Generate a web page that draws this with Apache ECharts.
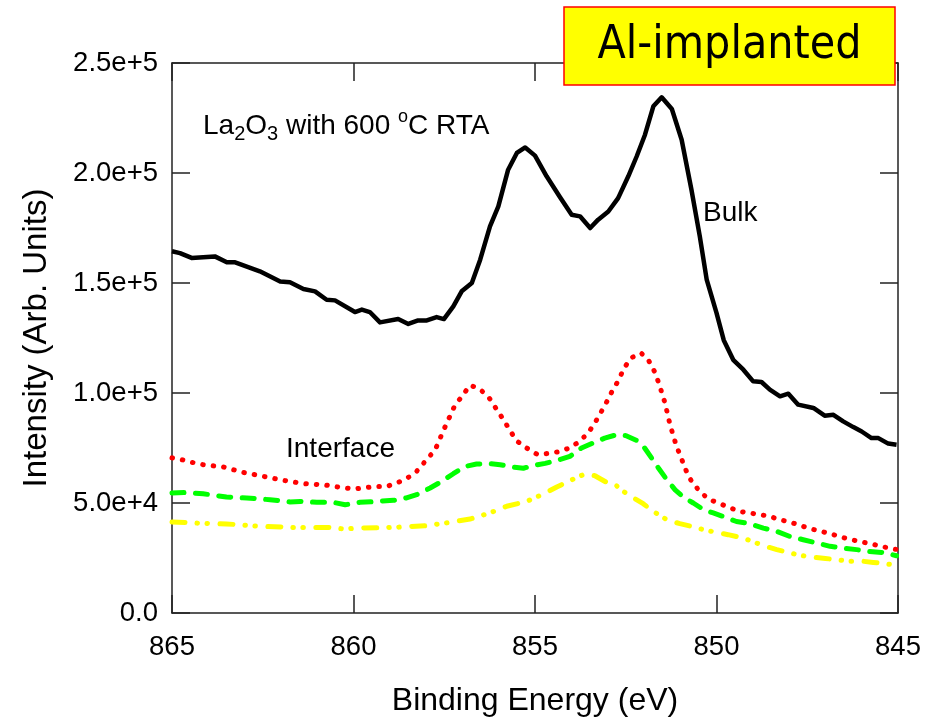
<!DOCTYPE html>
<html>
<head>
<meta charset="utf-8">
<script src="https://cdn.jsdelivr.net/npm/echarts@6/dist/echarts.min.js"></script>
<style>html,body{margin:0;padding:0;background:#fff}#c{width:937px;height:722px}</style>
</head>
<body>
<div id="c"></div>
<script>
// Binding energy (eV) and intensity (counts) for each curve
var bulkE = [865.00,864.78,864.46,863.82,863.49,863.26,862.58,862.02,861.75,861.38,861.06,860.74,860.51,859.96,859.77,859.55,859.27,858.77,858.49,858.22,857.98,857.71,857.51,857.25,857.02,856.74,856.51,856.24,856.01,855.74,855.50,855.27,855.00,854.68,854.31,853.99,853.76,853.48,853.26,852.98,852.71,852.43,852.20,851.97,851.74,851.51,851.23,850.96,850.69,850.46,850.27,850.00,849.80,849.54,849.26,848.99,848.76,848.53,848.25,848.02,847.75,847.33,847.02,846.78,846.51,846.23,846.00,845.73,845.54,845.27,845.04];
var bulkI = [164400,163600,161400,162100,159400,159400,155300,150700,150300,147300,146200,142400,142100,136800,137900,136800,132100,133600,131400,133000,133000,134500,133600,139400,146200,150000,160600,175700,184800,201500,209100,211600,207900,198500,189000,181000,180300,175000,178800,182500,188600,198500,207500,217400,230300,234400,229100,215100,192400,171200,151500,136400,124000,115100,110600,105300,105000,101500,98500,99700,94700,93200,89700,90100,87100,84500,82500,79500,79500,77000,76500];

var redE = [865.00,864.73,864.46,864.14,863.59,863.04,862.48,861.93,861.38,860.79,860.24,859.96,859.41,859.09,858.81,858.54,858.26,858.01,857.75,857.50,857.22,857.00,856.79,856.53,856.26,856.07,855.87,855.69,855.51,855.23,854.93,854.65,854.38,854.10,853.83,853.55,853.35,853.17,853.01,852.87,852.69,852.56,852.36,852.08,851.88,851.71,851.60,851.51,851.42,851.28,851.19,851.10,850.98,850.87,850.73,850.50,850.23,849.95,849.68,849.38,849.10,848.80,848.53,848.26,847.98,847.68,847.41,847.12,846.85,846.57,846.28,846.00,845.73,845.45,845.18,845.00];
var redI = [70500,69700,68500,67400,66400,63900,62100,60300,58800,58200,56800,56400,57500,57500,59100,61000,64400,69200,74200,83800,93900,98800,103500,102000,97700,92900,87900,83000,78300,75000,72000,72500,73200,74700,77300,81500,86400,91600,96400,101000,106000,110900,115900,118200,115100,109800,105000,100300,95500,85600,80600,75700,70900,65900,61000,56000,51800,50000,48200,46200,45500,44700,43900,42400,41400,39700,38300,37100,36000,34500,33300,32300,31400,30300,29200,28800];

var greenE = [865.00,864.60,864.14,863.50,862.94,862.30,861.75,861.47,861.01,860.56,860.23,859.82,859.36,858.90,858.54,858.26,857.89,857.57,857.25,856.93,856.61,856.24,855.96,855.64,855.32,855.05,854.72,854.36,854.04,853.72,853.40,853.08,852.76,852.49,852.21,851.98,851.79,851.60,851.37,851.14,850.91,850.64,850.36,850.09,849.77,849.45,849.08,848.71,848.34,847.98,847.61,847.24,846.87,846.51,846.14,845.78,845.41,845.04];
var greenI = [54500,54800,54200,52700,52300,51500,50500,50700,50300,50300,49200,50300,50700,51200,52300,53800,56800,59800,63300,66600,67700,67900,67400,66400,65800,67000,68000,69500,71200,75000,77300,79500,81000,80600,78500,75000,70500,65900,60600,56000,52700,50000,47000,45500,43600,41600,40600,38600,37100,34800,33300,31800,30300,29500,28800,28000,27500,26000];

var yellowE = [865.00,864.41,863.50,862.58,861.66,860.74,860.24,859.82,858.90,857.98,857.34,856.79,856.24,855.78,855.23,854.72,854.40,854.13,853.85,853.63,853.35,853.03,852.76,852.57,852.30,852.02,851.74,851.37,851.01,850.69,850.36,850.00,849.68,849.38,849.08,848.71,848.34,848.07,847.69,847.33,847.00,846.68,846.32,845.95,845.68,845.32,845.04];
var yellowI = [41400,40900,40500,39400,38900,38900,38200,38600,38900,39700,41200,42700,45500,48500,50700,54500,57300,59400,61600,63200,62400,59400,57900,55300,52500,49700,46200,42400,40600,39400,37900,36600,35600,34500,33000,30600,28800,27700,26200,25300,24800,24200,23500,23500,23000,22300,21800];

var xTicks = [865, 860, 855, 850, 845];
var yTicks = ['0.0', '5.0e+4', '1.0e+5', '1.5e+5', '2.0e+5', '2.5e+5'];

function pairs(xs, ys) { return xs.map(function (x, i) { return [x, ys[i]]; }); }

var FONT = "'Liberation Sans', Arial, sans-serif";
var axisLineStyle = { color: '#222', width: 1.5 };

var chart = echarts.init(document.getElementById('c'), null, { renderer: 'canvas' });

function xAxisCfg(pos, showLabel) {
  return {
    type: 'value', position: pos, min: 845, max: 865, interval: 5, inverse: true,
    axisLine: { show: true, onZero: false, lineStyle: axisLineStyle },
    axisTick: { show: true, inside: true, length: 18, lineStyle: axisLineStyle },
    axisLabel: { show: showLabel, fontSize: 27.5, color: '#000', margin: 20, fontFamily: FONT },
    splitLine: { show: false }
  };
}
function yAxisCfg(pos, showLabel) {
  return {
    type: 'value', position: pos, min: 0, max: 250000, interval: 50000,
    axisLine: { show: true, onZero: false, lineStyle: axisLineStyle },
    axisTick: { show: true, inside: true, length: 18, lineStyle: axisLineStyle },
    axisLabel: { show: showLabel, fontSize: 27.5, color: '#000', margin: 14, fontFamily: FONT,
      formatter: function (v) { return yTicks[Math.round(v / 50000)]; } },
    splitLine: { show: false }
  };
}

var xb = xAxisCfg('bottom', true);
xb.name = 'Binding Energy (eV)';
xb.nameLocation = 'middle';
xb.nameGap = 72;
xb.nameTextStyle = { fontSize: 32, color: '#000', fontFamily: FONT };
var xt = xAxisCfg('top', false);

var yl = yAxisCfg('left', true);
yl.name = 'Intensity (Arb. Units)';
yl.nameLocation = 'middle';
yl.nameGap = 119;
yl.nameTextStyle = { fontSize: 33, color: '#000', fontFamily: FONT };
var yr = yAxisCfg('right', false);

var option = {
  animation: false,
  backgroundColor: '#fff',
  grid: { left: 172, right: 39, top: 63, bottom: 109, containLabel: false },
  xAxis: [xb, xt],
  yAxis: [yl, yr],
  series: [
    { name: 'yellow', type: 'line', data: pairs(yellowE, yellowI), showSymbol: false, symbol: 'none',
      lineStyle: { color: '#ffff00', width: 5, type: [13, 12, 0.5, 9.5, 0.5, 12.5], cap: 'round', join: 'round' } },
    { name: 'green', type: 'line', data: pairs(greenE, greenI), showSymbol: false, symbol: 'none',
      lineStyle: { color: '#00ff00', width: 5, type: [12, 11.5], cap: 'round', join: 'round' } },
    { name: 'Interface', type: 'line', data: pairs(redE, redI), showSymbol: false, symbol: 'none',
      lineStyle: { color: '#ff0000', width: 5, type: [0.5, 10], cap: 'round', join: 'round' } },
    { name: 'Bulk', type: 'line', data: pairs(bulkE, bulkI), showSymbol: false, symbol: 'none',
      lineStyle: { color: '#000', width: 4.5, type: 'solid', join: 'round' } }
  ],
  graphic: [
    { type: 'text', x: 203, y: 126, z: 50,
      style: { text: '{m|La}{s|2}{m|O}{s|3}{m| with 600 }{u|o}{m|C RTA}', align: 'left', verticalAlign: 'middle',
        rich: {
          m: { fontSize: 28, lineHeight: 36, fontFamily: FONT, fill: '#000' },
          s: { fontSize: 20, lineHeight: 20, verticalAlign: 'bottom', fontFamily: FONT, fill: '#000' },
          u: { fontSize: 18, lineHeight: 26, verticalAlign: 'top', fontFamily: FONT, fill: '#000' }
        } } },
    { type: 'text', x: 703, y: 213, z: 50,
      style: { text: 'Bulk', fontSize: 28, fontFamily: FONT, fill: '#000', align: 'left', verticalAlign: 'middle' } },
    { type: 'text', x: 286, y: 449, z: 50,
      style: { text: 'Interface', fontSize: 28, fontFamily: FONT, fill: '#000', align: 'left', verticalAlign: 'middle' } },
    { type: 'rect', z: 100, shape: { x: 564, y: 7, width: 331, height: 78 },
      style: { fill: '#ffff00', stroke: '#ff0000', lineWidth: 1.5 } },
    { type: 'text', z: 101, x: 729.5, y: 46,
      style: { text: 'Al-implanted', fontSize: 46, fontFamily: "'DejaVu Sans Condensed', 'DejaVu Sans', sans-serif", fill: '#000', align: 'center', verticalAlign: 'middle' } }
  ]
};
chart.setOption(option);
</script>
</body>
</html>
